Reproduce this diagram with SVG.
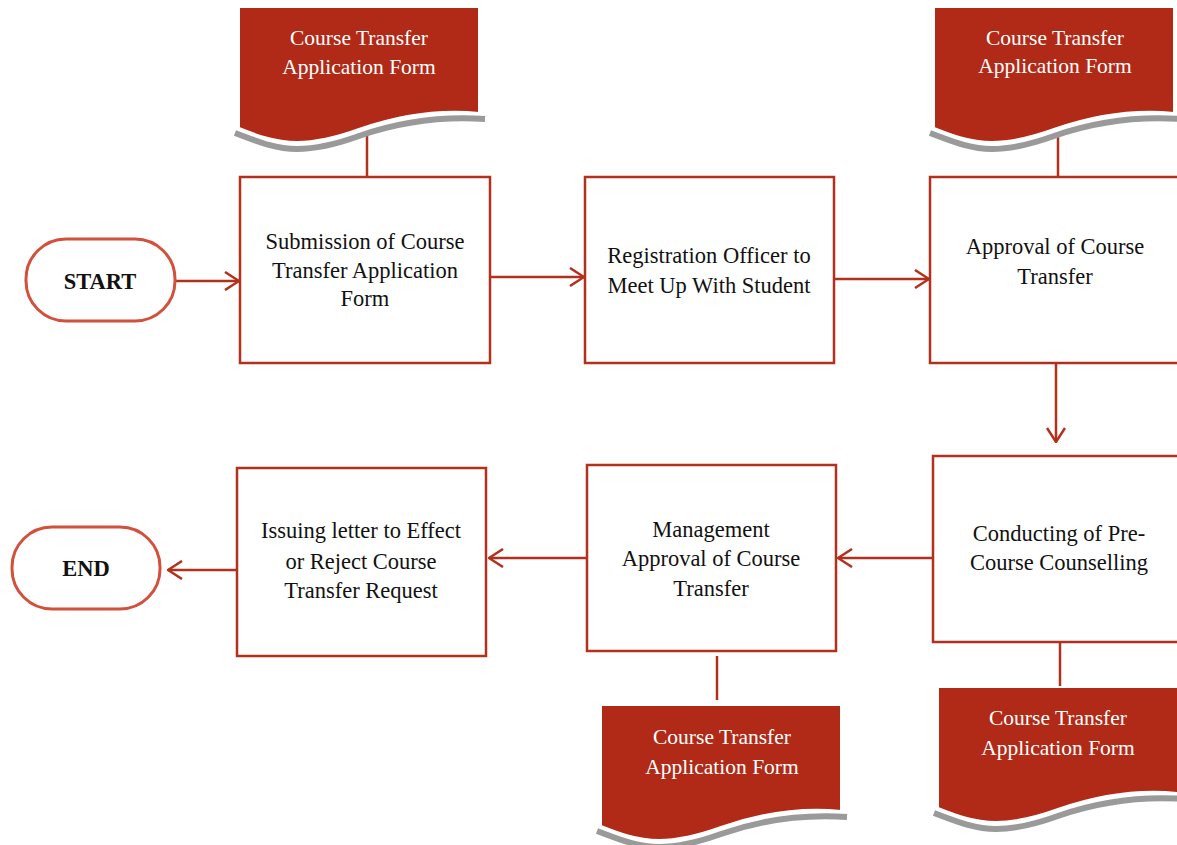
<svg xmlns="http://www.w3.org/2000/svg" width="1177" height="845" viewBox="0 0 1177 845">
  <style>
    .box { fill: #ffffff; stroke: #B3301C; stroke-width: 2.5; }
    .term { fill: #ffffff; stroke: #D2503C; stroke-width: 3; }
    .doc { fill: #B12A17; stroke: #ffffff; stroke-width: 2; }
    .shadow { fill: none; stroke: #9A9A9A; stroke-width: 6; }
    .link { fill: none; stroke: #B3301C; stroke-width: 2.5; }
    .label { font-family: "Liberation Serif", "Times New Roman", serif; font-size: 22.5px; fill: #111111; text-anchor: middle; dominant-baseline: central; }
    .bold { font-weight: bold; }
    .doctext { font-family: "Liberation Serif", "Times New Roman", serif; font-size: 21.5px; fill: #ffffff; text-anchor: middle; dominant-baseline: central; }
  </style>
  <defs>
    <marker id="arrow" viewBox="0 0 16 20" markerWidth="16" markerHeight="20" refX="15" refY="10" orient="auto" markerUnits="userSpaceOnUse">
      <path d="M1,1 L15,10 L1,19" fill="none" stroke="#B3301C" stroke-width="2.5"/>
    </marker>
    <!-- wavy-bottom document shape, 240 wide -->
    <path id="docShape" d="M0,0 H240 V106 C200,102 160,108 120,122 C95,131 75,135 58,135 C35,135 15,127 0,121 Z"/>
    <path id="docShadow" d="M-4,126 C15,133 35,142 58,142 C75,142 95,138 120,129 C160,115 200,109 246,112"/>
  </defs>

  <rect width="1177" height="845" fill="#ffffff"/>

  <!-- connectors -->
  <g id="connectors">
    <line class="link" x1="175" y1="281" x2="239" y2="281" marker-end="url(#arrow)"/>
    <line class="link" x1="490" y1="277" x2="584" y2="277" marker-end="url(#arrow)"/>
    <line class="link" x1="834" y1="279" x2="929" y2="279" marker-end="url(#arrow)"/>
    <line class="link" x1="1056" y1="363" x2="1056" y2="442" marker-end="url(#arrow)"/>
    <line class="link" x1="933" y1="558" x2="838" y2="558" marker-end="url(#arrow)"/>
    <line class="link" x1="587" y1="558" x2="489" y2="558" marker-end="url(#arrow)"/>
    <line class="link" x1="237" y1="570" x2="168" y2="570" marker-end="url(#arrow)"/>
    <!-- document ties -->
    <line class="link" x1="367" y1="136" x2="367" y2="177"/>
    <line class="link" x1="1058" y1="136" x2="1058" y2="177"/>
    <line class="link" x1="717" y1="656" x2="717" y2="700"/>
    <line class="link" x1="1060" y1="642" x2="1060" y2="686"/>
  </g>

  <!-- terminals -->
  <g id="start">
    <rect class="term" x="26" y="239" width="149" height="82" rx="40"/>
    <text class="label bold" x="100" y="281">START</text>
  </g>
  <g id="end">
    <rect class="term" x="12" y="527" width="148" height="82" rx="40"/>
    <text class="label bold" x="86" y="568">END</text>
  </g>

  <!-- process boxes -->
  <g id="submission">
    <rect class="box" x="240" y="177" width="250" height="186"/>
    <text class="label" x="365" y="241">Submission of Course</text>
    <text class="label" x="365" y="270">Transfer Application</text>
    <text class="label" x="365" y="298">Form</text>
  </g>
  <g id="registration">
    <rect class="box" x="585" y="177" width="249" height="186"/>
    <text class="label" x="709" y="255">Registration Officer to</text>
    <text class="label" x="709" y="285">Meet Up With Student</text>
  </g>
  <g id="approval">
    <rect class="box" x="930" y="177" width="260" height="186"/>
    <text class="label" x="1055" y="246">Approval of Course</text>
    <text class="label" x="1055" y="276">Transfer</text>
  </g>
  <g id="counselling">
    <rect class="box" x="933" y="456" width="260" height="186"/>
    <text class="label" x="1059" y="533">Conducting of Pre-</text>
    <text class="label" x="1059" y="562">Course Counselling</text>
  </g>
  <g id="management">
    <rect class="box" x="587" y="465" width="249" height="186"/>
    <text class="label" x="711" y="529">Management</text>
    <text class="label" x="711" y="558">Approval of Course</text>
    <text class="label" x="711" y="588">Transfer</text>
  </g>
  <g id="issuing">
    <rect class="box" x="237" y="468" width="249" height="188"/>
    <text class="label" x="361" y="530">Issuing letter to Effect</text>
    <text class="label" x="361" y="561">or Reject Course</text>
    <text class="label" x="361" y="590">Transfer Request</text>
  </g>

  <!-- application form documents -->
  <g id="form-1" transform="translate(239,7)">
    <use href="#docShadow" class="shadow"/>
    <use href="#docShape" class="doc"/>
    <text class="doctext" x="120" y="31">Course Transfer</text>
    <text class="doctext" x="120" y="60">Application Form</text>
  </g>
  <g id="form-2" transform="translate(934,7)">
    <use href="#docShadow" class="shadow"/>
    <use href="#docShape" class="doc"/>
    <text class="doctext" x="121" y="31">Course Transfer</text>
    <text class="doctext" x="121" y="59">Application Form</text>
  </g>
  <g id="form-3" transform="translate(601,705)">
    <use href="#docShadow" class="shadow"/>
    <use href="#docShape" class="doc"/>
    <text class="doctext" x="121" y="32">Course Transfer</text>
    <text class="doctext" x="121" y="62">Application Form</text>
  </g>
  <g id="form-4" transform="translate(938,687)">
    <use href="#docShadow" class="shadow"/>
    <use href="#docShape" class="doc"/>
    <text class="doctext" x="120" y="31">Course Transfer</text>
    <text class="doctext" x="120" y="61">Application Form</text>
  </g>
</svg>
